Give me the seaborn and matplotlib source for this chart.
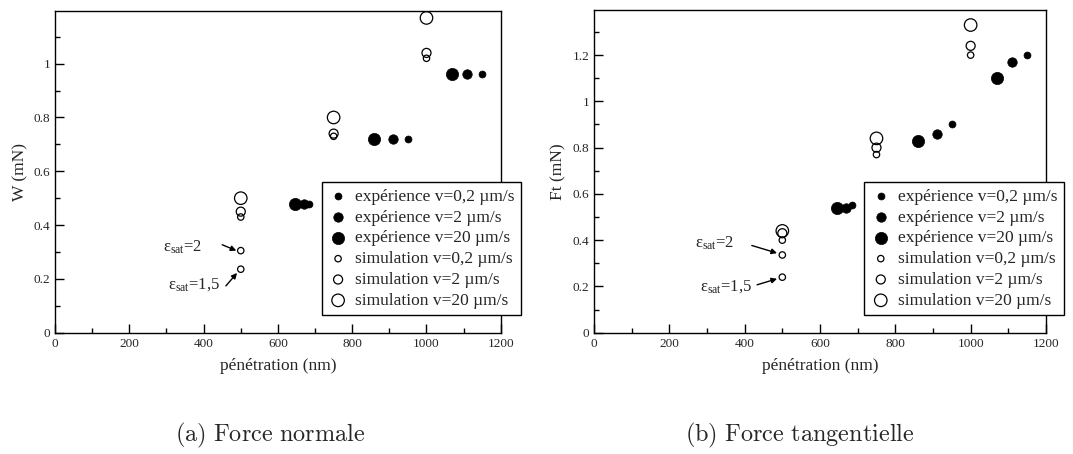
import matplotlib
matplotlib.use("Agg")
import matplotlib.pyplot as plt
import seaborn as sns
import numpy as np
import pandas as pd
from matplotlib.ticker import MultipleLocator, FuncFormatter

sns.set_style("white")
plt.rcParams['font.family'] = ['Liberation Serif', 'DejaVu Serif']
plt.rcParams['mathtext.fontset'] = 'custom'
plt.rcParams['mathtext.rm'] = 'Liberation Serif'
plt.rcParams['mathtext.it'] = 'Liberation Serif:italic'

# ---------------- data ----------------
labels = ["expérience v=0,2 µm/s", "expérience v=2 µm/s", "expérience v=20 µm/s",
          "simulation v=0,2 µm/s", "simulation v=2 µm/s", "simulation v=20 µm/s"]

# (a) Force normale W (mN)
W_exp02_x = [685, 950, 1150];  W_exp02_y = [0.48, 0.72, 0.96]
W_exp2_x = [670, 910, 1110];   W_exp2_y = [0.48, 0.72, 0.96]
W_exp20_x = [645, 860, 1070];  W_exp20_y = [0.48, 0.72, 0.96]
W_sim02_x = [500, 750, 1000];  W_sim02_y = [0.43, 0.73, 1.02]
W_sim2_x = [500, 750, 1000];   W_sim2_y = [0.45, 0.74, 1.04]
W_sim20_x = [500, 750, 1000];  W_sim20_y = [0.50, 0.80, 1.17]
W_sat_x = [500, 500];          W_sat_y = [0.305, 0.236]

# (b) Force tangentielle Ft (mN)
F_exp02_x = [685, 950, 1150];  F_exp02_y = [0.55, 0.90, 1.20]
F_exp2_x = [670, 910, 1110];   F_exp2_y = [0.54, 0.86, 1.17]
F_exp20_x = [645, 860, 1070];  F_exp20_y = [0.54, 0.83, 1.10]
F_sim02_x = [500, 750, 1000];  F_sim02_y = [0.40, 0.77, 1.20]
F_sim2_x = [500, 750, 1000];   F_sim2_y = [0.43, 0.80, 1.24]
F_sim20_x = [500, 750, 1000];  F_sim20_y = [0.44, 0.84, 1.33]
F_sat_x = [500, 500];          F_sat_y = [0.336, 0.240]

sizes = [5.0, 6.8, 8.8, 4.6, 6.5, 9.0]   # marker diameters (pt)
filled = [True, True, True, False, False, False]

fig = plt.figure(figsize=(10.73, 4.54), dpi=100)
axA = fig.add_axes([0.0513, 0.2672, 0.4154, 0.7093])
axB = fig.add_axes([0.5536, 0.2672, 0.4212, 0.7108])


def fmt(v, pos):
    return "%g" % round(v, 6)


def draw(ax, series, sat, ylabel, ymax, ann):
    for (xs, ys), lab, ms, fill in zip(series, labels, sizes, filled):
        df = pd.DataFrame({"x": xs, "y": ys})
        if fill:
            sns.scatterplot(data=df, x="x", y="y", ax=ax, s=ms ** 2, marker="o",
                            color="black", edgecolor="black", linewidth=0.5,
                            label=lab, zorder=3)
        else:
            sns.scatterplot(data=df, x="x", y="y", ax=ax, s=ms ** 2, marker="o",
                            color="black", facecolors="none", edgecolor="black",
                            linewidth=0.9, label=lab, zorder=3)
    dfs = pd.DataFrame({"x": sat[0], "y": sat[1]})
    sns.scatterplot(data=dfs, x="x", y="y", ax=ax, s=sizes[3] ** 2, marker="o",
                    color="black", facecolors="none", edgecolor="black",
                    linewidth=0.9, legend=False, zorder=3)

    ax.set_xlim(0, 1200)
    ax.set_ylim(0, ymax)
    ax.xaxis.set_major_locator(MultipleLocator(200))
    ax.xaxis.set_minor_locator(MultipleLocator(100))
    ax.yaxis.set_major_locator(MultipleLocator(0.2))
    ax.yaxis.set_minor_locator(MultipleLocator(0.1))
    ax.xaxis.set_major_formatter(FuncFormatter(fmt))
    ax.yaxis.set_major_formatter(FuncFormatter(fmt))
    ax.tick_params(which="both", direction="in", top=False, right=False,
                   bottom=True, left=True, labelsize=9.5, width=1.0, color="black",
                   pad=3.5)
    ax.tick_params(which="major", length=6.5)
    ax.tick_params(which="minor", length=3.6)
    for sp in ax.spines.values():
        sp.set_color("black")
        sp.set_linewidth(1.0)
    ax.set_xlabel("pénétration (nm)", fontsize=12.5, labelpad=6)
    ax.set_ylabel(ylabel, fontsize=12.5, labelpad=4)

    for txt, tpos, apos, tip in ann:
        ax.annotate("", xy=tip, xytext=apos,
                    arrowprops=dict(arrowstyle="-|>", color="black", lw=1.0,
                                    mutation_scale=8, shrinkA=0, shrinkB=0))
        ax.text(tpos[0], tpos[1], txt, fontsize=12, ha="left", va="center")

    leg = ax.legend(loc="lower left", bbox_to_anchor=(0.598, 0.055), fontsize=12.5,
                    frameon=True, fancybox=False, edgecolor="black", framealpha=1,
                    borderpad=0.35, labelspacing=0.27, handletextpad=0.4,
                    handlelength=1.2, borderaxespad=0)
    leg.get_frame().set_linewidth(1.0)
    leg.set_zorder(5)


eps2 = r"$\mathrm{\varepsilon}_{\mathrm{sat}}$=2"
eps15 = r"$\mathrm{\varepsilon}_{\mathrm{sat}}$=1,5"

draw(axA,
     [(W_exp02_x, W_exp02_y), (W_exp2_x, W_exp2_y), (W_exp20_x, W_exp20_y),
      (W_sim02_x, W_sim02_y), (W_sim2_x, W_sim2_y), (W_sim20_x, W_sim20_y)],
     (W_sat_x, W_sat_y), "W (mN)", 1.197,
     [(eps2, (290, 0.318), (450, 0.327), (488, 0.305)),
      (eps15, (305, 0.178), (460, 0.174), (490, 0.222))])

draw(axB,
     [(F_exp02_x, F_exp02_y), (F_exp2_x, F_exp2_y), (F_exp20_x, F_exp20_y),
      (F_sim02_x, F_sim02_y), (F_sim2_x, F_sim2_y), (F_sim20_x, F_sim20_y)],
     (F_sat_x, F_sat_y), "Ft (mN)", 1.395,
     [(eps2, (268, 0.385), (419, 0.377), (486, 0.344)),
      (eps15, (281, 0.200), (433, 0.207), (486, 0.233))])

fig.text(0.2516, 0.040, r"$\mathrm{(a)\ Force\ normale}$", ha="center", va="center",
         fontsize=17.5, math_fontfamily="cm")
fig.text(0.7456, 0.040, r"$\mathrm{(b)\ Force\ tangentielle}$", ha="center", va="center",
         fontsize=17.5, math_fontfamily="cm")

fig.savefig("out.png", dpi=100)
